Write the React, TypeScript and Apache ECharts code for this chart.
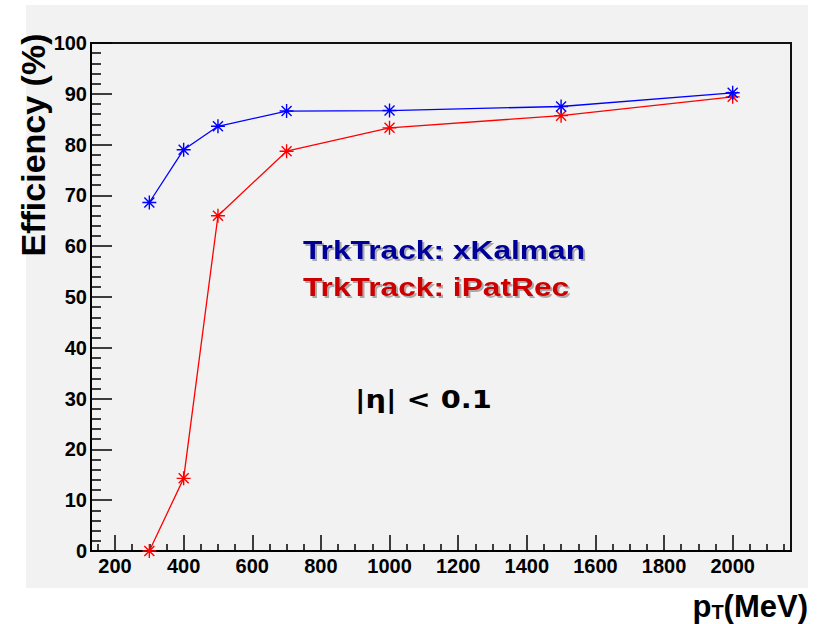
import React, { useEffect, useRef } from "react";
import * as echarts from "echarts";

const ptValues = [300, 400, 500, 700, 1000, 1500, 2000];
const xKalmanEff = [68.6, 79.0, 83.6, 86.6, 86.7, 87.5, 90.2];
const iPatRecEff = [0, 14.3, 66.0, 78.7, 83.3, 85.7, 89.4];
const seriesNames = ["TrkTrack: xKalman", "TrkTrack: iPatRec"];
const xMajorTicks = [200, 400, 600, 800, 1000, 1200, 1400, 1600, 1800, 2000];
const xMinorTicks = [
  150, 250, 300, 350, 450, 500, 550, 650, 700, 750, 850, 900, 950, 1050, 1100, 1150,
  1250, 1300, 1350, 1450, 1500, 1550, 1650, 1700, 1750, 1850, 1900, 1950, 2050, 2100, 2150,
];
const yAxisTitle = "Efficiency (%)";
const etaLabel = "|η| < 0.1";

const FONT = '"Liberation Sans", Arial, sans-serif';
const STAR = "path://M7 0 L7 14 M0 7 L14 7 M2 2 L12 12 M2 12 L12 2";

export default function App() {
  const ref = useRef<HTMLDivElement>(null);
  useEffect(() => {
    if (!ref.current) return;
    const chart = echarts.init(ref.current, undefined, { renderer: "svg" });
    const mk = (vals: number[]) => ptValues.map((x, i) => [x, vals[i]]);
    chart.setOption({
      animation: false,
      backgroundColor: "#ffffff",
      grid: {
        left: 91,
        top: 43,
        right: 34,
        bottom: 73,
        show: true,
        borderColor: "#111",
        borderWidth: 2,
        backgroundColor: "transparent",
      },
      xAxis: [
        {
          type: "value",
          min: 130,
          max: 2170,
          position: "bottom",
          axisLine: { show: true, lineStyle: { color: "#000", width: 2 } },
          axisTick: {
            show: true,
            inside: true,
            length: 16,
            customValues: xMajorTicks,
            lineStyle: { color: "#000", width: 1.5 },
          },
          axisLabel: {
            customValues: xMajorTicks,
            formatter: (v: number) => String(v),
            fontSize: 20,
            fontWeight: "bold",
            fontFamily: FONT,
            color: "#000",
            margin: 5,
          },
          splitLine: { show: false },
        },
        {
          type: "value",
          min: 130,
          max: 2170,
          position: "bottom",
          axisLine: { show: false },
          axisTick: {
            show: true,
            inside: true,
            length: 7,
            customValues: xMinorTicks,
            lineStyle: { color: "#000", width: 1.5 },
          },
          axisLabel: { show: false },
          splitLine: { show: false },
        },
      ],
      yAxis: {
        type: "value",
        min: 0,
        max: 100,
        interval: 10,
        axisLine: { show: true, lineStyle: { color: "#000", width: 2 } },
        axisTick: { show: true, inside: true, length: 21, lineStyle: { color: "#000", width: 1.5 } },
        minorTick: { show: true, splitNumber: 5, length: 10, lineStyle: { color: "#000", width: 1.5 } },
        axisLabel: {
          fontSize: 20,
          fontWeight: "bold",
          fontFamily: FONT,
          color: "#000",
          margin: 4,
        },
        splitLine: { show: false },
      },
      series: [
        {
          name: seriesNames[0],
          type: "line",
          data: mk(xKalmanEff),
          symbol: STAR,
          symbolSize: 14,
          lineStyle: { color: "#0000ff", width: 1.3 },
          itemStyle: { color: "#0000ff", borderColor: "#0000ff", borderWidth: 1.4 },
          z: 3,
        },
        {
          name: seriesNames[1],
          type: "line",
          data: mk(iPatRecEff),
          symbol: STAR,
          symbolSize: 14,
          lineStyle: { color: "#ff0000", width: 1.3 },
          itemStyle: { color: "#ff0000", borderColor: "#ff0000", borderWidth: 1.4 },
          z: 2,
        },
      ],
      graphic: [
        {
          type: "rect",
          silent: true,
          z: -10,
          shape: { x: 26, y: 5, width: 782, height: 583 },
          style: { fill: "#f2f2f2" },
        },
        {
          type: "text",
          x: 33,
          y: 145,
          rotation: Math.PI / 2,
          style: {
            text: yAxisTitle,
            font: `bold 34px ${FONT}`,
            fill: "#000",
            align: "center",
            verticalAlign: "middle",
          },
        },
        {
          type: "text",
          x: 303,
          y: 250,
          scaleX: 1.22,
          style: {
            text: seriesNames[0],
            font: `bold 26px ${FONT}`,
            fill: "#000099",
            align: "left",
            verticalAlign: "middle",
            textShadowColor: "rgba(0,0,0,0.3)",
            textShadowOffsetX: 2,
            textShadowOffsetY: 2,
            textShadowBlur: 1,
          },
        },
        {
          type: "text",
          x: 303,
          y: 287,
          scaleX: 1.22,
          style: {
            text: seriesNames[1],
            font: `bold 26px ${FONT}`,
            fill: "#cc0000",
            align: "left",
            verticalAlign: "middle",
            textShadowColor: "rgba(0,0,0,0.3)",
            textShadowOffsetX: 2,
            textShadowOffsetY: 2,
            textShadowBlur: 1,
          },
        },
        {
          type: "text",
          x: 355,
          y: 399,
          scaleX: 1.2,
          style: {
            text: etaLabel,
            font: `bold 24px "DejaVu Sans", sans-serif`,
            fill: "#000",
            align: "left",
            verticalAlign: "middle",
          },
        },
        {
          type: "text",
          x: 808,
          y: 606,
          style: {
            text: "{p|p}{s|T}{b|(MeV)}",
            align: "right",
            verticalAlign: "middle",
            rich: {
              p: { fontSize: 31, fontWeight: "bold", fontFamily: FONT, fill: "#000", color: "#000" },
              s: {
                fontSize: 20,
                fontWeight: "bold",
                fontFamily: FONT,
                fill: "#000",
                color: "#000",
                verticalAlign: "bottom",
              },
              b: { fontSize: 31, fontWeight: "bold", fontFamily: FONT, fill: "#000", color: "#000" },
            },
          },
        },
      ],
    });
    return () => chart.dispose();
  }, []);
  return (
    <div
      ref={ref}
      style={{ position: "absolute", left: 0, top: 0, width: 825, height: 624 }}
    />
  );
}
